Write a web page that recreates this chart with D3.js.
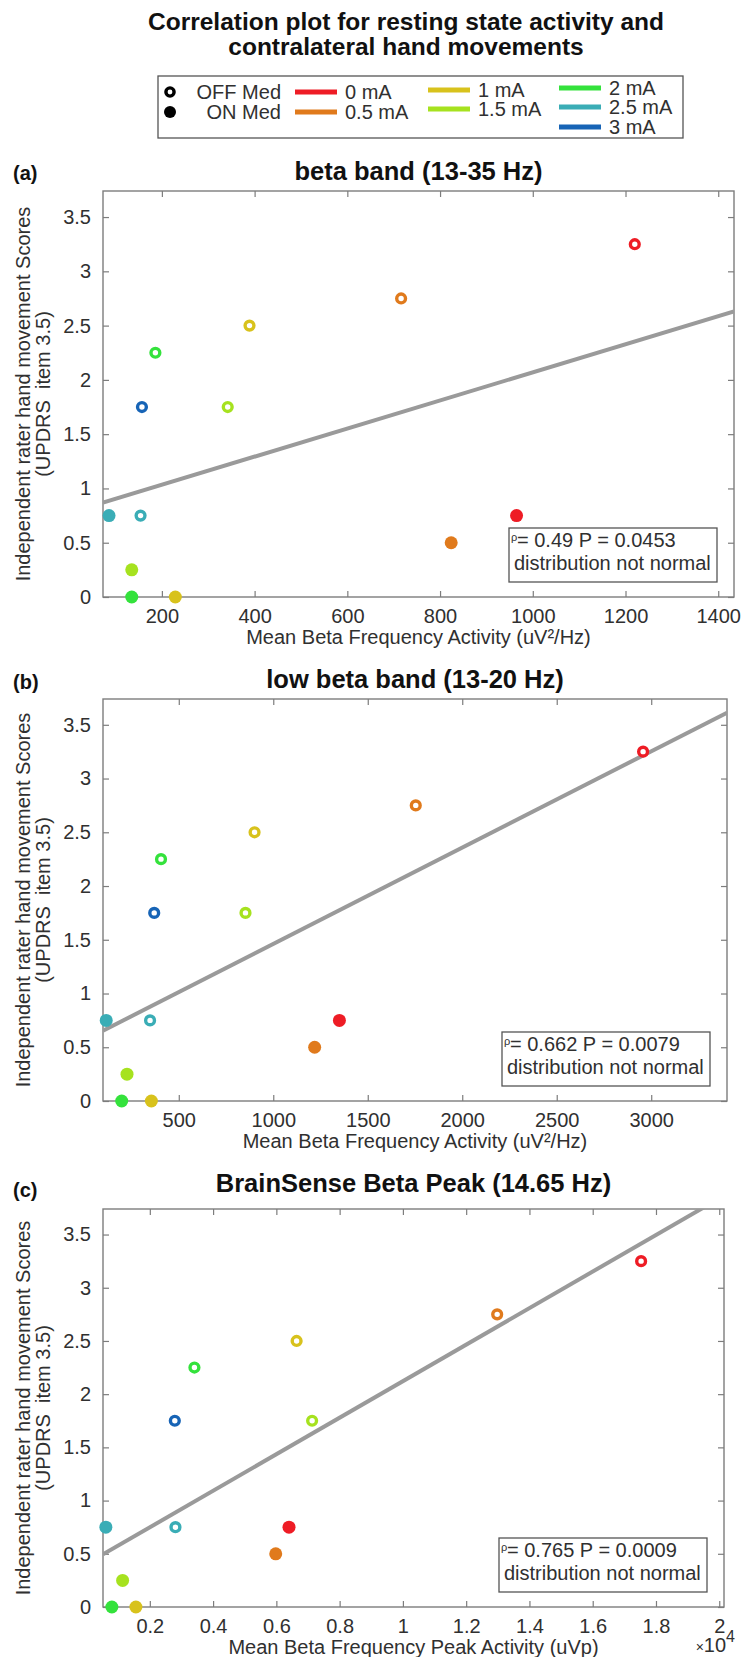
<!DOCTYPE html>
<html>
<head>
<meta charset="utf-8">
<script src="https://cdn.jsdelivr.net/npm/d3@7"></script>
<style>
  body { margin: 0; background: #fff; }
  svg { display: block; }
  text { font-family: "Liberation Sans", Arial, Helvetica, sans-serif; }
</style>
</head>
<body>
<svg id="chart"></svg>
<script>
// stimulation amplitudes and their colours
const currents = ["0 mA", "0.5 mA", "1 mA", "1.5 mA", "2 mA", "2.5 mA", "3 mA"];
const currentColors = ["#ee1c25", "#e07a1c", "#d8c21c", "#a6e21f", "#34e23c", "#3aadb6", "#1764b6"];
const medStates = ["OFF Med", "ON Med"];

// one entry per recording: OFF Med at 0..3 mA, then ON Med at 0..2.5 mA
const pointCurrent = ["0 mA", "0.5 mA", "1 mA", "1.5 mA", "2 mA", "2.5 mA", "3 mA",
                      "0 mA", "0.5 mA", "1 mA", "1.5 mA", "2 mA", "2.5 mA"];
const pointMed = ["OFF Med", "OFF Med", "OFF Med", "OFF Med", "OFF Med", "OFF Med", "OFF Med",
                  "ON Med", "ON Med", "ON Med", "ON Med", "ON Med", "ON Med"];
const updrsScore = [3.25, 2.75, 2.5, 1.75, 2.25, 0.75, 1.75, 0.75, 0.5, 0, 0.25, 0, 0.75];

const betaActivity    = [1220, 716, 389, 342, 186, 154, 157, 965, 824, 229, 135, 135, 86];
const lowBetaActivity = [2957, 1754, 901, 853, 406, 348, 370, 1350, 1219, 355, 226, 198, 116];
const peakActivity    = [17530, 12980, 6640, 7130, 3410, 2810, 2790, 6400, 5980, 1560, 1140, 800, 610];

const yTicks = [0, 0.5, 1, 1.5, 2, 2.5, 3, 3.5];
const betaTicks = [200, 400, 600, 800, 1000, 1200, 1400];
const lowBetaTicks = [500, 1000, 1500, 2000, 2500, 3000];
const peakTicks = [2000, 4000, 6000, 8000, 10000, 12000, 14000, 16000, 18000, 20000];
const peakTickLabels = ["0.2", "0.4", "0.6", "0.8", "1", "1.2", "1.4", "1.6", "1.8", "2"];

const rhoValues = ["0.49", "0.662", "0.765"];
const pValues = ["0.0453", "0.0079", "0.0009"];

const W = 752, H = 1657;
const FONT = 20;
const axisGray = "#7d7d7d", textGray = "#303030";

const svg = d3.select("#chart").attr("width", W).attr("height", H);
svg.append("rect").attr("width", W).attr("height", H).attr("fill", "#fff");

// main title, two lines
const mainTitle = svg.append("text").attr("text-anchor", "middle")
  .attr("font-size", 24.5).attr("font-weight", "bold").attr("fill", "#111");
mainTitle.append("tspan").attr("x", 406).attr("y", 30)
  .text("Correlation plot for resting state activity and");
mainTitle.append("tspan").attr("x", 406).attr("y", 55)
  .text("contralateral hand movements");

// legend
const legend = svg.append("g");
legend.append("rect").attr("x", 158).attr("y", 76).attr("width", 525).attr("height", 62)
  .attr("fill", "#fff").attr("stroke", "#555").attr("stroke-width", 1.3);

function marker(sel, med, color, rOpen, rFill) {
  if (med === "OFF Med") {
    sel.attr("r", rOpen).attr("fill", "#fff").attr("stroke", color).attr("stroke-width", 3.4);
  } else {
    sel.attr("r", rFill).attr("fill", color).attr("stroke", "none");
  }
}

medStates.forEach((m, i) => {
  const cy = 92 + i * 20;
  legend.append("circle").attr("cx", 170).attr("cy", cy).call(marker, m, "#000", 4.1, 6);
  legend.append("text").attr("x", 281).attr("y", cy + 7).attr("text-anchor", "end")
    .attr("font-size", FONT).attr("fill", textGray).text(m);
});

const legendSlots = [[295, 92], [295, 112], [428, 90], [428, 109], [559, 88], [559, 107], [559, 127]];
currents.forEach((c, i) => {
  const [lx, ly] = legendSlots[i];
  legend.append("line").attr("x1", lx).attr("x2", lx + 42).attr("y1", ly).attr("y2", ly)
    .attr("stroke", currentColors[i]).attr("stroke-width", 5);
  legend.append("text").attr("x", lx + 50).attr("y", ly + 7)
    .attr("font-size", FONT).attr("fill", textGray).text(c);
});

const color = d3.scaleOrdinal().domain(currents).range(currentColors);

const panels = [
  {tag: "(a)", title: "beta band (13-35 Hz)", xlabel: "Mean Beta Frequency Activity (uV²/Hz)",
   values: betaActivity, xDomain: [73, 1434], xTicks: betaTicks, fmt: d3.format("~g"),
   x0: 103, x1: 734, y0: 191, y1: 597, titleY: 180, tagY: 180},
  {tag: "(b)", title: "low beta band (13-20 Hz)", xlabel: "Mean Beta Frequency Activity (uV²/Hz)",
   values: lowBetaActivity, xDomain: [99, 3401], xTicks: lowBetaTicks, fmt: d3.format("~g"),
   x0: 103, x1: 727, y0: 699, y1: 1101, titleY: 688, tagY: 689},
  {tag: "(c)", title: "BrainSense Beta Peak (14.65 Hz)", xlabel: "Mean Beta Frequency Peak Activity (uVp)",
   values: peakActivity, xDomain: [520, 20150], xTicks: peakTicks,
   fmt: (d, i) => peakTickLabels[i],
   x0: 103, x1: 724, y0: 1209, y1: 1607, titleY: 1192, tagY: 1197, power: true}
];

panels.forEach((p, k) => {
  const x = d3.scaleLinear().domain(p.xDomain).range([p.x0, p.x1]);
  const y = d3.scaleLinear().domain([0, 3.74]).range([p.y1, p.y0]);
  const g = svg.append("g");

  g.append("clipPath").attr("id", "clip" + k).append("rect")
    .attr("x", p.x0).attr("y", p.y0).attr("width", p.x1 - p.x0).attr("height", p.y1 - p.y0);

  // axes with inward ticks on all four sides
  const axes = [
    [d3.axisBottom(x).tickValues(p.xTicks).tickFormat(p.fmt), `translate(0,${p.y1})`],
    [d3.axisTop(x).tickValues(p.xTicks).tickFormat(""), `translate(0,${p.y0})`],
    [d3.axisLeft(y).tickValues(yTicks).tickFormat(d3.format("~g")), `translate(${p.x0},0)`],
    [d3.axisRight(y).tickValues(yTicks).tickFormat(""), `translate(${p.x1},0)`]
  ];
  axes.forEach(([ax, tr]) => {
    const a = g.append("g").attr("transform", tr)
      .call(ax.tickSizeInner(-6).tickSizeOuter(0).tickPadding(12));
    a.select(".domain").remove();
    a.selectAll(".tick line").attr("stroke", axisGray).attr("stroke-width", 1.2);
    a.selectAll("text").attr("font-size", FONT).attr("fill", textGray)
      .attr("font-family", "Liberation Sans, Arial, sans-serif");
  });

  g.append("rect").attr("x", p.x0).attr("y", p.y0)
    .attr("width", p.x1 - p.x0).attr("height", p.y1 - p.y0)
    .attr("fill", "none").attr("stroke", axisGray).attr("stroke-width", 1.4);

  // least-squares fit line
  const mx = d3.mean(p.values), my = d3.mean(updrsScore);
  const sxy = d3.sum(p.values, (v, i) => (v - mx) * (updrsScore[i] - my));
  const sxx = d3.sum(p.values, v => (v - mx) * (v - mx));
  const slope = sxy / sxx, icpt = my - slope * mx;
  g.append("path").datum(x.domain().map(v => [v, icpt + slope * v]))
    .attr("d", d3.line().x(d => x(d[0])).y(d => y(d[1])))
    .attr("clip-path", `url(#clip${k})`)
    .attr("fill", "none").attr("stroke", "#9a9a9a").attr("stroke-width", 4);

  // points
  const pts = p.values.map((v, i) => ({v, s: updrsScore[i], c: pointCurrent[i], m: pointMed[i]}));
  g.selectAll(".pt").data(pts).enter().append("circle").attr("class", "pt")
    .attr("cx", d => x(d.v)).attr("cy", d => y(d.s))
    .each(function (d) { d3.select(this).call(marker, d.m, color(d.c), 4.4, 6.5); });

  // stats box
  const bx = p.x1 - 225, by = p.y1 - 69;
  g.append("rect").attr("x", bx).attr("y", by).attr("width", 208).attr("height", 54)
    .attr("fill", "#fff").attr("stroke", "#555").attr("stroke-width", 1.3);
  const st = g.append("text").attr("font-size", FONT).attr("fill", textGray);
  st.append("tspan").attr("x", bx + 2).attr("y", by + 13).attr("font-size", 11).text("ρ");
  st.append("tspan").attr("x", bx + 8).attr("y", by + 19).text(`= ${rhoValues[k]} P = ${pValues[k]}`);
  st.append("tspan").attr("x", bx + 5).attr("y", by + 42).text("distribution not normal");

  // titles and labels
  const cx = (p.x0 + p.x1) / 2, cy = (p.y0 + p.y1) / 2;
  g.append("text").attr("x", cx).attr("y", p.titleY).attr("text-anchor", "middle")
    .attr("font-size", 25.5).attr("font-weight", "bold").attr("fill", "#111").text(p.title);
  g.append("text").attr("x", 13).attr("y", p.tagY)
    .attr("font-size", 20).attr("font-weight", "bold").attr("fill", "#111").text(p.tag);
  g.append("text").attr("x", cx).attr("y", p.y1 + 47).attr("text-anchor", "middle")
    .attr("font-size", FONT).attr("fill", textGray).text(p.xlabel);

  const yl = g.append("text").attr("transform", `translate(30,${cy}) rotate(-90)`)
    .attr("text-anchor", "middle").attr("font-size", FONT).attr("fill", textGray)
    .style("white-space", "pre");
  yl.append("tspan").attr("x", 0).attr("y", 0).text("Independent rater hand movement Scores");
  yl.append("tspan").attr("x", 0).attr("y", 20).text("(UPDRS  item 3.5)");

  if (p.power) {
    const e = g.append("text").attr("x", 735).attr("y", p.y1 + 45).attr("text-anchor", "end")
      .attr("font-size", FONT).attr("fill", textGray);
    e.append("tspan").attr("font-size", 14).text("×");
    e.append("tspan").text("10");
    e.append("tspan").attr("font-size", 16).attr("dy", -10).text("4");
  }
});
</script>
</body>
</html>
